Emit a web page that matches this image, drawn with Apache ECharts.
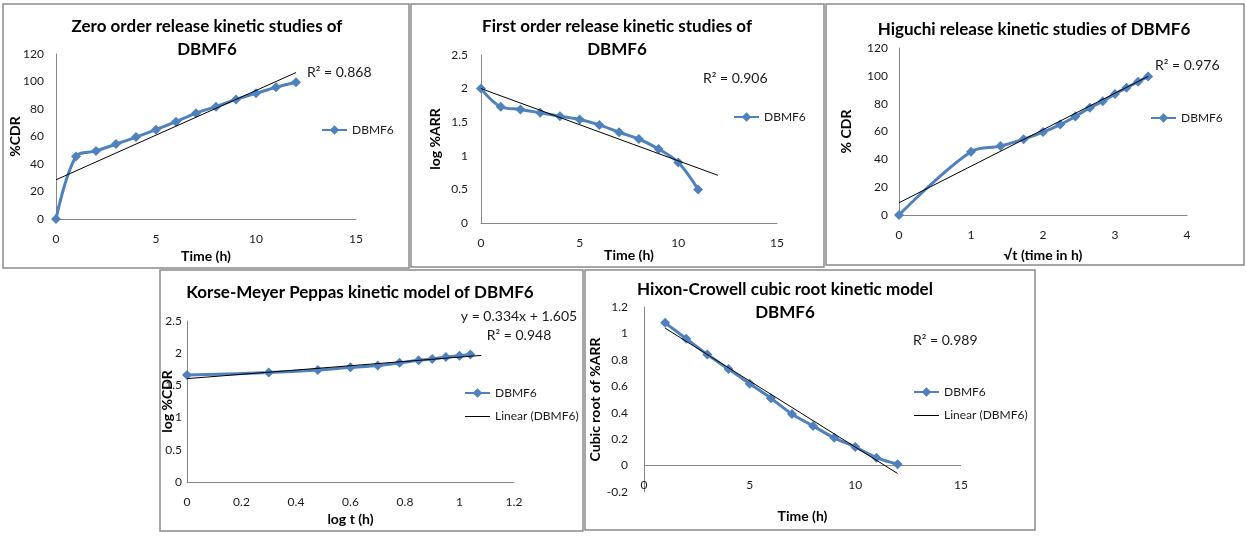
<!DOCTYPE html>
<html><head><meta charset="utf-8">
<script src="https://cdn.jsdelivr.net/npm/echarts@6/dist/echarts.min.js"></script>
<style>html,body{margin:0;padding:0;background:#fff}#c{width:1246px;height:537px}</style>
</head><body><div id="c"></div>
<script>
// ---------- data ----------
const zeroTime = [0, 1, 2, 3, 4, 5, 6, 7, 8, 9, 10, 11, 12];
const zeroCdr = [0, 45.5, 49.5, 54.5, 59.6, 65, 70.8, 77, 81.7, 87, 91.4, 95.8, 99.4];
const zeroTrendX = [0, 12];
const zeroTrendY = [28.5, 106.5];

const firstTime = [0, 1, 2, 3, 4, 5, 6, 7, 8, 9, 10, 11];
const firstLogArr = [2.0, 1.73, 1.69, 1.64, 1.59, 1.54, 1.46, 1.35, 1.25, 1.10, 0.90, 0.50];
const firstTrendX = [0, 12];
const firstTrendY = [2.0, 0.71];

const higuchiSqrtT = [0, 1, 1.41, 1.73, 2, 2.24, 2.45, 2.65, 2.83, 3, 3.16, 3.32, 3.46];
const higuchiCdr = [0, 45.5, 49.5, 54.5, 59.6, 65, 70.8, 77, 81.7, 87, 91.4, 95.8, 99.6];
const higuchiTrendX = [0, 3.46];
const higuchiTrendY = [8.8, 99.6];

const kmpLogT = [0, 0.30, 0.48, 0.60, 0.70, 0.78, 0.85, 0.90, 0.95, 1.0, 1.04];
const kmpLogCdr = [1.66, 1.70, 1.74, 1.78, 1.81, 1.85, 1.89, 1.91, 1.94, 1.96, 1.98];
const kmpTrendX = [0, 1.08];
const kmpTrendY = [1.605, 1.966];

const hcTime = [1, 2, 3, 4, 5, 6, 7, 8, 9, 10, 11, 12];
const hcCubeRoot = [1.08, 0.96, 0.84, 0.73, 0.62, 0.51, 0.39, 0.30, 0.21, 0.14, 0.06, 0.01];
const hcTrendX = [1, 12];
const hcTrendY = [1.04, -0.06];

const xTickInfo = [[0, 15, 5], [0, 15, 5], [0, 4, 1], [0, 1.2, 0.2], [0, 15, 5]];
const yTickInfo = [[0, 120, 20], [0, 2.5, 0.5], [0, 120, 20], [0, 2.5, 0.5], [-0.2, 1.2, 0.2]];

// ---------- layout / style ----------
const FONT = 'Lato, "Open Sans", sans-serif';
const BLUE = '#4F81BD';
const AXIS = '#868686';
const TXT = '#1a1a1a';
function pairs(xs, ys) { return xs.map((x, i) => [x, ys[i]]); }

const panels = [
  { box: [3, 4, 406, 264], grid: [56, 54, 300, 165],
    xName: 'Time (h)', xGap: 30, xMargin: 14, yName: '%CDR', yGap: 34, yMargin: 12,
    title: { text: 'Zero order release kinetic studies of\nDBMF6', x: 207, y: 38.5 },
    legend: { left: 321, top: 124, items: ['DBMF6'] },
    notes: [{ text: 'R² = 0.868', x: 307, y: 72, align: 'left' }],
    xs: zeroTime, ys: zeroCdr, tx: zeroTrendX, ty: zeroTrendY },
  { box: [411, 4, 413, 263], grid: [481, 55, 296, 168],
    xName: 'Time (h)', xGap: 25, xMargin: 14, yName: 'log %ARR', yGap: 39, yMargin: 13,
    title: { text: 'First order release kinetic studies of\nDBMF6', x: 617, y: 38.5 },
    legend: { left: 733, top: 111, items: ['DBMF6'] },
    notes: [{ text: 'R² = 0.906', x: 703, y: 78, align: 'left' }],
    xs: firstTime, ys: firstLogArr, tx: firstTrendX, ty: firstTrendY },
  { box: [826, 4, 418, 261], grid: [899, 48, 288, 167],
    xName: '√t (time in h)', xGap: 33, xMargin: 14, yName: '% CDR', yGap: 46, yMargin: 11,
    title: { text: 'Higuchi release kinetic studies of DBMF6', x: 1034, y: 29.5 },
    legend: { left: 1150, top: 112, items: ['DBMF6'] },
    notes: [{ text: 'R² = 0.976', x: 1155, y: 65, align: 'left' }],
    xs: higuchiSqrtT, ys: higuchiCdr, tx: higuchiTrendX, ty: higuchiTrendY },
  { box: [160, 270, 423, 261], grid: [187, 321, 327, 161],
    xName: 'log t (h)', xGap: 30, xMargin: 14, yName: 'log %CDR', yGap: 13, yMargin: 5,
    title: { text: 'Korse-Meyer Peppas kinetic model of DBMF6', x: 360, y: 293 },
    legend: { left: 464, top: 387, items: ['DBMF6', 'Linear (DBMF6)'] },
    notes: [{ text: 'y = 0.334x + 1.605', x: 519, y: 316, align: 'center' },
            { text: 'R² = 0.948', x: 519, y: 335, align: 'center' }],
    xs: kmpLogT, ys: kmpLogCdr, tx: kmpTrendX, ty: kmpTrendY },
  { box: [585, 270, 450, 260], grid: [644, 307, 317, 185], zeroLine: true,
    xName: 'Time (h)', xGap: 17, xMargin: -13, yName: 'Cubic root of %ARR', yGap: 42, yMargin: 16,
    title: { text: 'Hixon-Crowell cubic root kinetic model\nDBMF6', x: 785, y: 301.5 },
    legend: { left: 913, top: 386, items: ['DBMF6', 'Linear (DBMF6)'] },
    notes: [{ text: 'R² = 0.989', x: 913, y: 340, align: 'left' }],
    xs: hcTime, ys: hcCubeRoot, tx: hcTrendX, ty: hcTrendY }
];

const grid = [], xAxis = [], yAxis = [], series = [], legend = [], graphic = [];
panels.forEach((p, i) => {
  graphic.push({ type: 'rect', silent: true, z: -1,
    shape: { x: p.box[0], y: p.box[1], width: p.box[2], height: p.box[3] },
    style: { fill: 'none', stroke: '#8a8a8a', lineWidth: 1.5 } });
  graphic.push({ type: 'text', silent: true, x: p.title.x, y: p.title.y,
    style: { text: p.title.text, align: 'center', verticalAlign: 'middle', fontFamily: FONT,
      fontSize: 17, fontWeight: 'bold', fill: '#000', lineHeight: 23 } });
  p.notes.forEach(n => graphic.push({ type: 'text', silent: true, x: n.x, y: n.y,
    style: { text: n.text, align: n.align, verticalAlign: 'middle', fontFamily: FONT,
      fontSize: 14, fill: TXT } }));

  grid.push({ left: p.grid[0], top: p.grid[1], width: p.grid[2], height: p.grid[3],
    containLabel: false, outerBoundsMode: 'none' });
  xAxis.push({ type: 'value', gridIndex: i, min: xTickInfo[i][0], max: xTickInfo[i][1], interval: xTickInfo[i][2],
    splitLine: { show: false }, axisTick: { show: false },
    axisLine: { show: !p.zeroLine, onZero: false, lineStyle: { color: AXIS, width: 1 } },
    axisLabel: { color: TXT, fontSize: 12, fontFamily: FONT, margin: p.xMargin },
    name: p.xName, nameLocation: 'middle', nameGap: p.xGap, nameMoveOverlap: false,
    nameTextStyle: { color: '#000', fontSize: 14, fontWeight: 'bold', fontFamily: FONT } });
  yAxis.push({ type: 'value', gridIndex: i, min: yTickInfo[i][0], max: yTickInfo[i][1], interval: yTickInfo[i][2],
    splitLine: { show: false }, axisTick: { show: false },
    axisLine: { show: true, onZero: false, lineStyle: { color: AXIS, width: 1 } },
    axisLabel: { color: TXT, fontSize: 12, fontFamily: FONT, margin: p.yMargin },
    name: p.yName, nameLocation: 'middle', nameGap: p.yGap, nameRotate: 90, nameMoveOverlap: false,
    nameTextStyle: { color: '#000', fontSize: 14, fontWeight: 'bold', fontFamily: FONT } });

  series.push({ type: 'line', name: 'DBMF6', xAxisIndex: i, yAxisIndex: i,
    data: pairs(p.xs, p.ys), smooth: 0.35, symbol: 'diamond', symbolSize: 10,
    lineStyle: { color: BLUE, width: 3 }, itemStyle: { color: BLUE }, z: 3, animation: false });
  const trend = { type: 'line', name: 'Linear (DBMF6)', xAxisIndex: i, yAxisIndex: i,
    data: pairs(p.tx, p.ty), symbol: 'none', lineStyle: { color: '#000', width: 1 },
    itemStyle: { color: '#000' }, z: 4, animation: false };
  if (p.zeroLine) {
    trend.markLine = { silent: true, symbol: 'none', animation: false, z: 1,
      label: { show: false }, emphasis: { disabled: true },
      lineStyle: { color: AXIS, width: 1, type: 'solid' }, data: [{ yAxis: 0 }] };
  }
  series.push(trend);

  legend.push({ left: p.legend.left, top: p.legend.top, orient: 'vertical', padding: 0,
    itemWidth: 25, itemHeight: 12, itemGap: 11.5, selectedMode: false,
    textStyle: { fontSize: 12, fontFamily: FONT, color: TXT },
    data: p.legend.items.map(n => n === 'DBMF6' ? { name: n } :
      { name: n, icon: 'path://M0,0H50V2H0Z', itemStyle: { color: '#000' } }) });
});

const chart = echarts.init(document.getElementById('c'), null, { renderer: 'canvas' });
chart.setOption({ backgroundColor: '#fff', animation: false, grid, xAxis, yAxis, series, legend, graphic });
</script></body></html>
